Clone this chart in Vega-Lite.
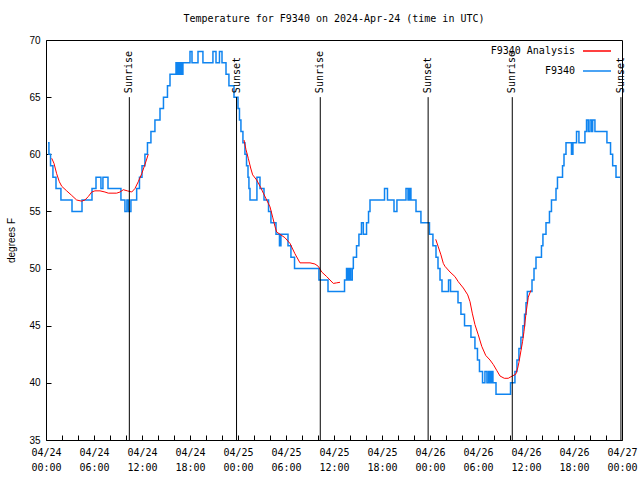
{
  "$schema": "https://vega.github.io/schema/vega-lite/v6.json",
  "width": 576,
  "height": 400,
  "autosize": {"type": "none"},
  "padding": {"left": 46, "top": 40, "right": 18, "bottom": 40},
  "background": "white",
  "title": {"text": "Temperature for F9340 on 2024-Apr-24 (time in UTC)", "font": "DejaVu Sans Mono", "fontSize": 10, "fontWeight": "normal", "anchor": "middle", "offset": 11, "color": "black"},
  "config": {
    "view": {"stroke": "black", "strokeWidth": 1},
    "axis": {"grid": false, "domain": false, "ticks": true, "tickColor": "black", "tickSize": -5, "tickWidth": 1, "tickOpacity": 1, "zindex": 1, "labelColor": "black", "titleColor": "black"},
    "legend": {"orient": "none", "legendX": 536, "legendY": -4, "symbolType": "stroke", "symbolSize": 784, "symbolStrokeWidth": 1.5, "labelAlign": "right", "labelOffset": -37, "labelFont": "DejaVu Sans Mono", "labelFontSize": 10, "labelColor": "black", "padding": 0, "rowPadding": -15, "title": null}
  },
  "datasets": {
    "obs": [
      {"t": "2024-04-24T00:15:00Z", "v": 61}, {"t": "2024-04-24T00:22:00Z", "v": 60}, {"t": "2024-04-24T00:34:00Z", "v": 59},
      {"t": "2024-04-24T00:52:00Z", "v": 58}, {"t": "2024-04-24T01:15:00Z", "v": 57}, {"t": "2024-04-24T01:52:00Z", "v": 56},
      {"t": "2024-04-24T03:15:00Z", "v": 55}, {"t": "2024-04-24T04:30:00Z", "v": 56}, {"t": "2024-04-24T05:45:00Z", "v": 57},
      {"t": "2024-04-24T06:15:00Z", "v": 58}, {"t": "2024-04-24T06:52:00Z", "v": 57}, {"t": "2024-04-24T07:07:00Z", "v": 58},
      {"t": "2024-04-24T07:45:00Z", "v": 57}, {"t": "2024-04-24T09:22:00Z", "v": 56}, {"t": "2024-04-24T09:52:00Z", "v": 55},
      {"t": "2024-04-24T10:07:00Z", "v": 56}, {"t": "2024-04-24T10:19:00Z", "v": 55}, {"t": "2024-04-24T10:37:00Z", "v": 56},
      {"t": "2024-04-24T11:20:00Z", "v": 57}, {"t": "2024-04-24T11:41:00Z", "v": 58}, {"t": "2024-04-24T12:00:00Z", "v": 59},
      {"t": "2024-04-24T12:22:00Z", "v": 60}, {"t": "2024-04-24T12:41:00Z", "v": 61}, {"t": "2024-04-24T13:07:00Z", "v": 62},
      {"t": "2024-04-24T13:37:00Z", "v": 63}, {"t": "2024-04-24T14:15:00Z", "v": 64}, {"t": "2024-04-24T14:41:00Z", "v": 65},
      {"t": "2024-04-24T15:11:00Z", "v": 66}, {"t": "2024-04-24T15:30:00Z", "v": 67}, {"t": "2024-04-24T16:15:00Z", "v": 68},
      {"t": "2024-04-24T16:26:00Z", "v": 67}, {"t": "2024-04-24T16:37:00Z", "v": 68}, {"t": "2024-04-24T16:45:00Z", "v": 67},
      {"t": "2024-04-24T16:52:00Z", "v": 68}, {"t": "2024-04-24T17:00:00Z", "v": 67}, {"t": "2024-04-24T17:07:00Z", "v": 68},
      {"t": "2024-04-24T18:00:00Z", "v": 69}, {"t": "2024-04-24T18:15:00Z", "v": 68}, {"t": "2024-04-24T19:00:00Z", "v": 69},
      {"t": "2024-04-24T19:37:00Z", "v": 68}, {"t": "2024-04-24T20:52:00Z", "v": 69}, {"t": "2024-04-24T21:15:00Z", "v": 68},
      {"t": "2024-04-24T21:41:00Z", "v": 69}, {"t": "2024-04-24T22:00:00Z", "v": 68}, {"t": "2024-04-24T22:30:00Z", "v": 67},
      {"t": "2024-04-24T22:52:00Z", "v": 66}, {"t": "2024-04-24T23:30:00Z", "v": 65},
      {"t": "2024-04-25T00:00:00Z", "v": 64}, {"t": "2024-04-25T00:11:00Z", "v": 63}, {"t": "2024-04-25T00:22:00Z", "v": 62},
      {"t": "2024-04-25T00:37:00Z", "v": 61}, {"t": "2024-04-25T00:52:00Z", "v": 60}, {"t": "2024-04-25T01:04:00Z", "v": 59},
      {"t": "2024-04-25T01:15:00Z", "v": 58}, {"t": "2024-04-25T01:22:00Z", "v": 57}, {"t": "2024-04-25T01:30:00Z", "v": 56},
      {"t": "2024-04-25T02:22:00Z", "v": 58}, {"t": "2024-04-25T02:45:00Z", "v": 57}, {"t": "2024-04-25T03:15:00Z", "v": 56},
      {"t": "2024-04-25T03:49:00Z", "v": 55}, {"t": "2024-04-25T04:07:00Z", "v": 54}, {"t": "2024-04-25T04:45:00Z", "v": 53},
      {"t": "2024-04-25T05:11:00Z", "v": 52}, {"t": "2024-04-25T05:22:00Z", "v": 53}, {"t": "2024-04-25T06:15:00Z", "v": 52},
      {"t": "2024-04-25T06:37:00Z", "v": 51}, {"t": "2024-04-25T07:04:00Z", "v": 50}, {"t": "2024-04-25T10:07:00Z", "v": 49},
      {"t": "2024-04-25T11:15:00Z", "v": 48}, {"t": "2024-04-25T13:19:00Z", "v": 49}, {"t": "2024-04-25T13:34:00Z", "v": 50},
      {"t": "2024-04-25T13:45:00Z", "v": 49}, {"t": "2024-04-25T13:54:00Z", "v": 50}, {"t": "2024-04-25T14:05:00Z", "v": 49},
      {"t": "2024-04-25T14:17:00Z", "v": 50}, {"t": "2024-04-25T14:25:00Z", "v": 51}, {"t": "2024-04-25T14:49:00Z", "v": 52},
      {"t": "2024-04-25T15:07:00Z", "v": 53}, {"t": "2024-04-25T15:26:00Z", "v": 54}, {"t": "2024-04-25T15:40:00Z", "v": 53},
      {"t": "2024-04-25T16:04:00Z", "v": 54}, {"t": "2024-04-25T16:19:00Z", "v": 55}, {"t": "2024-04-25T16:30:00Z", "v": 56},
      {"t": "2024-04-25T18:19:00Z", "v": 57}, {"t": "2024-04-25T18:41:00Z", "v": 56}, {"t": "2024-04-25T19:30:00Z", "v": 55},
      {"t": "2024-04-25T19:52:00Z", "v": 56}, {"t": "2024-04-25T21:00:00Z", "v": 57}, {"t": "2024-04-25T21:15:00Z", "v": 56},
      {"t": "2024-04-25T21:26:00Z", "v": 57}, {"t": "2024-04-25T21:37:00Z", "v": 56}, {"t": "2024-04-25T22:15:00Z", "v": 55},
      {"t": "2024-04-25T22:52:00Z", "v": 54}, {"t": "2024-04-25T23:56:00Z", "v": 53},
      {"t": "2024-04-26T00:22:00Z", "v": 52}, {"t": "2024-04-26T00:45:00Z", "v": 51}, {"t": "2024-04-26T01:00:00Z", "v": 50},
      {"t": "2024-04-26T01:15:00Z", "v": 49}, {"t": "2024-04-26T01:30:00Z", "v": 48}, {"t": "2024-04-26T02:19:00Z", "v": 49},
      {"t": "2024-04-26T02:34:00Z", "v": 48}, {"t": "2024-04-26T03:30:00Z", "v": 47}, {"t": "2024-04-26T03:52:00Z", "v": 46},
      {"t": "2024-04-26T04:19:00Z", "v": 45}, {"t": "2024-04-26T05:07:00Z", "v": 44}, {"t": "2024-04-26T05:37:00Z", "v": 43},
      {"t": "2024-04-26T05:56:00Z", "v": 42}, {"t": "2024-04-26T06:11:00Z", "v": 41}, {"t": "2024-04-26T06:34:00Z", "v": 40},
      {"t": "2024-04-26T06:52:00Z", "v": 41}, {"t": "2024-04-26T07:07:00Z", "v": 40}, {"t": "2024-04-26T07:19:00Z", "v": 41},
      {"t": "2024-04-26T07:30:00Z", "v": 40}, {"t": "2024-04-26T07:41:00Z", "v": 41}, {"t": "2024-04-26T07:52:00Z", "v": 40},
      {"t": "2024-04-26T08:15:00Z", "v": 39}, {"t": "2024-04-26T10:04:00Z", "v": 40}, {"t": "2024-04-26T10:37:00Z", "v": 41},
      {"t": "2024-04-26T10:52:00Z", "v": 42}, {"t": "2024-04-26T11:07:00Z", "v": 43}, {"t": "2024-04-26T11:22:00Z", "v": 44},
      {"t": "2024-04-26T11:37:00Z", "v": 45}, {"t": "2024-04-26T11:49:00Z", "v": 46}, {"t": "2024-04-26T12:00:00Z", "v": 47},
      {"t": "2024-04-26T12:10:00Z", "v": 48}, {"t": "2024-04-26T12:45:00Z", "v": 49}, {"t": "2024-04-26T13:00:00Z", "v": 50},
      {"t": "2024-04-26T13:15:00Z", "v": 51}, {"t": "2024-04-26T13:56:00Z", "v": 52}, {"t": "2024-04-26T14:07:00Z", "v": 53},
      {"t": "2024-04-26T14:30:00Z", "v": 54}, {"t": "2024-04-26T14:56:00Z", "v": 55}, {"t": "2024-04-26T15:11:00Z", "v": 56},
      {"t": "2024-04-26T15:45:00Z", "v": 57}, {"t": "2024-04-26T15:56:00Z", "v": 58}, {"t": "2024-04-26T16:34:00Z", "v": 59},
      {"t": "2024-04-26T16:45:00Z", "v": 60}, {"t": "2024-04-26T17:00:00Z", "v": 61}, {"t": "2024-04-26T17:41:00Z", "v": 60},
      {"t": "2024-04-26T17:52:00Z", "v": 61}, {"t": "2024-04-26T18:19:00Z", "v": 62}, {"t": "2024-04-26T18:37:00Z", "v": 61},
      {"t": "2024-04-26T19:22:00Z", "v": 62}, {"t": "2024-04-26T19:34:00Z", "v": 63}, {"t": "2024-04-26T19:47:00Z", "v": 62},
      {"t": "2024-04-26T20:00:00Z", "v": 63}, {"t": "2024-04-26T20:13:00Z", "v": 62}, {"t": "2024-04-26T20:20:00Z", "v": 63},
      {"t": "2024-04-26T20:37:00Z", "v": 62}, {"t": "2024-04-26T22:07:00Z", "v": 61}, {"t": "2024-04-26T22:34:00Z", "v": 60},
      {"t": "2024-04-26T22:50:00Z", "v": 59}, {"t": "2024-04-26T23:15:00Z", "v": 58}, {"t": "2024-04-26T23:45:00Z", "v": 58}
    ],
    "ana": [
      {"seg": 1, "t": "2024-04-24T00:43:00Z", "v": 59.65}, {"seg": 1, "t": "2024-04-24T01:00:00Z", "v": 59.2},
      {"seg": 1, "t": "2024-04-24T01:20:00Z", "v": 58.3}, {"seg": 1, "t": "2024-04-24T01:40:00Z", "v": 57.6},
      {"seg": 1, "t": "2024-04-24T01:58:00Z", "v": 57.2}, {"seg": 1, "t": "2024-04-24T02:35:00Z", "v": 56.8},
      {"seg": 1, "t": "2024-04-24T03:13:00Z", "v": 56.4}, {"seg": 1, "t": "2024-04-24T03:50:00Z", "v": 56.0},
      {"seg": 1, "t": "2024-04-24T04:28:00Z", "v": 55.9}, {"seg": 1, "t": "2024-04-24T04:52:00Z", "v": 56.0},
      {"seg": 1, "t": "2024-04-24T05:17:00Z", "v": 56.3}, {"seg": 1, "t": "2024-04-24T05:43:00Z", "v": 56.7},
      {"seg": 1, "t": "2024-04-24T06:07:00Z", "v": 56.8}, {"seg": 1, "t": "2024-04-24T06:45:00Z", "v": 56.8},
      {"seg": 1, "t": "2024-04-24T07:22:00Z", "v": 56.7}, {"seg": 1, "t": "2024-04-24T07:47:00Z", "v": 56.6},
      {"seg": 1, "t": "2024-04-24T08:50:00Z", "v": 56.6}, {"seg": 1, "t": "2024-04-24T09:15:00Z", "v": 56.7},
      {"seg": 1, "t": "2024-04-24T09:40:00Z", "v": 56.9}, {"seg": 1, "t": "2024-04-24T10:10:00Z", "v": 56.8},
      {"seg": 1, "t": "2024-04-24T10:43:00Z", "v": 56.7}, {"seg": 1, "t": "2024-04-24T11:07:00Z", "v": 57.0},
      {"seg": 1, "t": "2024-04-24T11:32:00Z", "v": 57.6}, {"seg": 1, "t": "2024-04-24T11:58:00Z", "v": 58.3},
      {"seg": 1, "t": "2024-04-24T12:22:00Z", "v": 59.1}, {"seg": 1, "t": "2024-04-24T12:47:00Z", "v": 60.0},
      {"seg": 2, "t": "2024-04-25T00:45:00Z", "v": 61.25}, {"seg": 2, "t": "2024-04-25T01:00:00Z", "v": 60.4},
      {"seg": 2, "t": "2024-04-25T01:17:00Z", "v": 59.65}, {"seg": 2, "t": "2024-04-25T01:35:00Z", "v": 58.8},
      {"seg": 2, "t": "2024-04-25T01:50:00Z", "v": 58.2}, {"seg": 2, "t": "2024-04-25T02:20:00Z", "v": 57.75},
      {"seg": 2, "t": "2024-04-25T02:50:00Z", "v": 57.1}, {"seg": 2, "t": "2024-04-25T03:10:00Z", "v": 56.6},
      {"seg": 2, "t": "2024-04-25T03:35:00Z", "v": 56.0}, {"seg": 2, "t": "2024-04-25T04:00:00Z", "v": 55.4},
      {"seg": 2, "t": "2024-04-25T04:20:00Z", "v": 54.5}, {"seg": 2, "t": "2024-04-25T04:37:00Z", "v": 53.7},
      {"seg": 2, "t": "2024-04-25T04:50:00Z", "v": 53.2}, {"seg": 2, "t": "2024-04-25T05:15:00Z", "v": 53.0},
      {"seg": 2, "t": "2024-04-25T05:52:00Z", "v": 52.7}, {"seg": 2, "t": "2024-04-25T06:30:00Z", "v": 52.2},
      {"seg": 2, "t": "2024-04-25T07:07:00Z", "v": 51.3}, {"seg": 2, "t": "2024-04-25T07:45:00Z", "v": 50.5},
      {"seg": 2, "t": "2024-04-25T09:00:00Z", "v": 50.5}, {"seg": 2, "t": "2024-04-25T09:37:00Z", "v": 50.4},
      {"seg": 2, "t": "2024-04-25T10:02:00Z", "v": 50.2}, {"seg": 2, "t": "2024-04-25T10:28:00Z", "v": 49.7},
      {"seg": 2, "t": "2024-04-25T11:05:00Z", "v": 49.3}, {"seg": 2, "t": "2024-04-25T11:30:00Z", "v": 49.0},
      {"seg": 2, "t": "2024-04-25T11:55:00Z", "v": 48.7}, {"seg": 2, "t": "2024-04-25T12:20:00Z", "v": 48.75},
      {"seg": 2, "t": "2024-04-25T12:45:00Z", "v": 48.8},
      {"seg": 3, "t": "2024-04-26T00:43:00Z", "v": 52.56}, {"seg": 3, "t": "2024-04-26T01:02:00Z", "v": 51.9},
      {"seg": 3, "t": "2024-04-26T01:22:00Z", "v": 51.2}, {"seg": 3, "t": "2024-04-26T01:40:00Z", "v": 50.45},
      {"seg": 3, "t": "2024-04-26T01:52:00Z", "v": 50.2}, {"seg": 3, "t": "2024-04-26T02:30:00Z", "v": 49.7},
      {"seg": 3, "t": "2024-04-26T03:07:00Z", "v": 49.3}, {"seg": 3, "t": "2024-04-26T03:32:00Z", "v": 48.85},
      {"seg": 3, "t": "2024-04-26T04:10:00Z", "v": 48.3}, {"seg": 3, "t": "2024-04-26T04:43:00Z", "v": 47.7},
      {"seg": 3, "t": "2024-04-26T05:00:00Z", "v": 47.1}, {"seg": 3, "t": "2024-04-26T05:17:00Z", "v": 46.1},
      {"seg": 3, "t": "2024-04-26T05:37:00Z", "v": 45.1}, {"seg": 3, "t": "2024-04-26T06:02:00Z", "v": 44.2},
      {"seg": 3, "t": "2024-04-26T06:28:00Z", "v": 43.2}, {"seg": 3, "t": "2024-04-26T06:58:00Z", "v": 42.4},
      {"seg": 3, "t": "2024-04-26T07:30:00Z", "v": 42.0}, {"seg": 3, "t": "2024-04-26T07:55:00Z", "v": 41.6},
      {"seg": 3, "t": "2024-04-26T08:20:00Z", "v": 41.1}, {"seg": 3, "t": "2024-04-26T08:45:00Z", "v": 40.6},
      {"seg": 3, "t": "2024-04-26T09:17:00Z", "v": 40.4}, {"seg": 3, "t": "2024-04-26T09:47:00Z", "v": 40.4},
      {"seg": 3, "t": "2024-04-26T10:17:00Z", "v": 40.6}, {"seg": 3, "t": "2024-04-26T10:43:00Z", "v": 40.75},
      {"seg": 3, "t": "2024-04-26T10:58:00Z", "v": 41.3}, {"seg": 3, "t": "2024-04-26T11:07:00Z", "v": 41.8},
      {"seg": 3, "t": "2024-04-26T11:22:00Z", "v": 42.8}, {"seg": 3, "t": "2024-04-26T11:34:00Z", "v": 43.6},
      {"seg": 3, "t": "2024-04-26T11:45:00Z", "v": 44.5}, {"seg": 3, "t": "2024-04-26T12:00:00Z", "v": 46.1},
      {"seg": 3, "t": "2024-04-26T12:17:00Z", "v": 47.5}, {"seg": 3, "t": "2024-04-26T12:37:00Z", "v": 48.1}
    ],
    "sun": [
      {"t": "2024-04-24T10:25:00Z", "event": "Sunrise"},
      {"t": "2024-04-24T23:49:00Z", "event": "Sunset"},
      {"t": "2024-04-25T10:17:00Z", "event": "Sunrise"},
      {"t": "2024-04-25T23:46:00Z", "event": "Sunset"},
      {"t": "2024-04-26T10:17:00Z", "event": "Sunrise"},
      {"t": "2024-04-26T23:52:00Z", "event": "Sunset"}
    ]
  },
  "layer": [
    {
      "data": {"name": "obs"},
      "mark": {"type": "line", "interpolate": "step-after", "strokeWidth": 1.5},
      "encoding": {
        "x": {"field": "t", "type": "temporal",
          "scale": {"type": "utc", "domain": [1713916800000, 1714176000000], "nice": false},
          "axis": {"orient": "bottom", "title": null, "tickCount": 40, "ticks": true, "tickSize": -5,
            "values": [1713916800000, 1713924000000, 1713931200000, 1713938400000, 1713945600000, 1713952800000, 1713960000000, 1713967200000, 1713974400000, 1713981600000, 1713988800000, 1713996000000, 1714003200000, 1714010400000, 1714017600000, 1714024800000, 1714032000000, 1714039200000, 1714046400000, 1714053600000, 1714060800000, 1714068000000, 1714075200000, 1714082400000, 1714089600000, 1714096800000, 1714104000000, 1714111200000, 1714118400000, 1714125600000, 1714132800000, 1714140000000, 1714147200000, 1714154400000, 1714161600000, 1714168800000, 1714176000000],
            "labelExpr": "utchours(datum.value) % 6 == 0 ? [utcFormat(datum.value, '%m/%d'), utcFormat(datum.value, '%H:%M')] : ''",
            "labelFont": "DejaVu Sans Mono", "labelFontSize": 10, "labelLineHeight": 15, "labelPadding": 12,
            "labelBaseline": "top", "labelOverlap": false, "labelFlush": false, "labelBound": false}},
        "y": {"field": "v", "type": "quantitative",
          "scale": {"domain": [35, 70], "nice": false, "zero": false},
          "axis": {"orient": "left", "values": [35, 40, 45, 50, 55, 60, 65, 70], "ticks": true, "tickSize": -5, "labelFont": "Liberation Sans", "labelFontSize": 10, "labelPadding": 11,
            "title": "degrees F", "titleFont": "Liberation Sans", "titleFontSize": 10, "titleFontWeight": "normal", "titlePadding": 12}},
        "color": {"datum": "F9340", "type": "nominal", "scale": {"domain": ["F9340 Analysis", "F9340"], "range": ["#ff0000", "#0f84f0"]}}
      }
    },
    {
      "data": {"name": "ana"},
      "mark": {"type": "line", "strokeWidth": 1},
      "encoding": {
        "x": {"field": "t", "type": "temporal"},
        "y": {"field": "v", "type": "quantitative"},
        "detail": {"field": "seg", "type": "nominal"},
        "color": {"datum": "F9340 Analysis", "type": "nominal"}
      }
    },
    {
      "data": {"name": "sun"},
      "mark": {"type": "rule", "color": "black", "strokeWidth": 1},
      "encoding": {
        "x": {"field": "t", "type": "temporal"},
        "y": {"datum": 35, "type": "quantitative"},
        "y2": {"datum": 65}
      }
    },
    {
      "data": {"name": "sun"},
      "mark": {"type": "text", "angle": 270, "align": "left", "baseline": "middle", "dx": 4, "font": "DejaVu Sans Mono", "fontSize": 10, "color": "black"},
      "encoding": {
        "x": {"field": "t", "type": "temporal"},
        "y": {"datum": 65, "type": "quantitative"},
        "text": {"field": "event", "type": "nominal"}
      }
    }
  ]
}
